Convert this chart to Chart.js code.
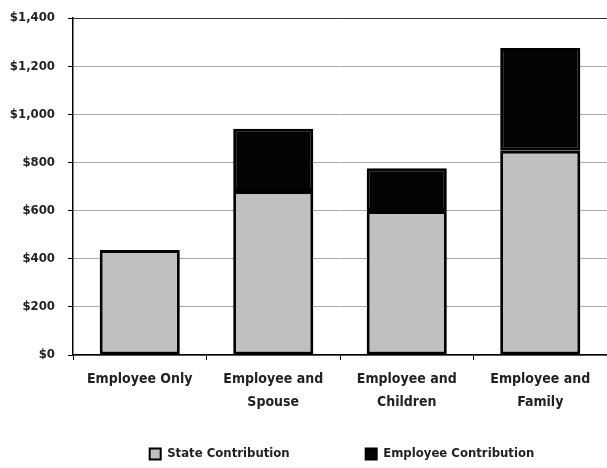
<!DOCTYPE html>
<html>
<head>
<meta charset="utf-8">
<script src="https://cdn.jsdelivr.net/npm/chart.js@4.4.0/dist/chart.umd.min.js"></script>
<style>
  html, body { margin: 0; padding: 0; background: #fff; }
  #wrap { width: 607px; height: 468px; }
</style>
</head>
<body>
<div id="wrap"><canvas id="myChart"></canvas></div>
<script>
// values
var categories = ['Employee Only', ['Employee and', 'Spouse'], ['Employee and', 'Children'], ['Employee and', 'Family']];
var stateContribution = [436, 681, 598, 848];
var employeeContribution = [0, 259, 178, 427];
var yTicks = [0, 200, 400, 600, 800, 1000, 1200, 1400];

var font = "'DejaVu Sans Condensed', 'DejaVu Sans', sans-serif";
var textColor = '#222';

// legend is laid out in a small box, then moved so its row sits at ~455px
// and is centred under the plot area instead of the whole canvas
var legendShift = {
  id: 'legendShift',
  afterLayout: function(chart) {
    var lg = chart.legend;
    var dx = (chart.chartArea.left + chart.chartArea.right) / 2 + 2 - (lg.left + lg.right) / 2;
    lg.left += dx;
    lg.right += dx;
    lg.top = 447.5 - lg.options.labels.padding;
    lg.bottom = chart.height;
    lg.height = lg.bottom - lg.top;
  }
};

var ctx = document.getElementById('myChart');
var config = {
  type: 'bar',
  data: {
    labels: categories,
    datasets: [{
      label: 'State Contribution',
      data: stateContribution,
      backgroundColor: '#c0c0c0',
      borderColor: '#000',
      borderWidth: 3,
      borderSkipped: false
    }, {
      label: 'Employee Contribution',
      data: employeeContribution,
      backgroundColor: '#030303',
      borderColor: '#000',
      borderWidth: 3,
      borderSkipped: false
    }]
  },
  plugins: [legendShift],
  options: {
    responsive: true,
    maintainAspectRatio: false,
    animation: false,
    layout: { padding: { top: 18, left: 0, right: 0, bottom: 0 } },
    datasets: {
      bar: { categoryPercentage: 1, barPercentage: 0.6 }
    },
    scales: {
      x: {
        stacked: true,
        offset: true,
        afterFit: function(scale) { scale.height = 73; },
        grid: {
          offset: true,
          drawOnChartArea: false,
          color: '#000',
          tickColor: '#000',
          tickLength: 5
        },
        border: { color: '#000', width: 1.5 },
        ticks: {
          color: textColor,
          padding: 7.5,
          maxRotation: 0,
          font: { family: font, size: 14, weight: 'bold', lineHeight: 1.64 }
        }
      },
      y: {
        stacked: true,
        min: 0,
        max: 1400,
        afterFit: function(scale) {
          scale.width = 73;
          scale.paddingTop = 0;
          scale.paddingBottom = 0;
        },
        afterBuildTicks: function(scale) {
          scale.ticks = yTicks.map(function(v) { return { value: v }; });
        },
        grid: {
          color: function(c) { return c.index === yTicks.length - 1 ? '#333' : '#ababab'; },
          tickColor: '#000',
          tickLength: 5
        },
        border: { color: '#000', width: 1.5 },
        ticks: {
          color: textColor,
          padding: 13,
          font: { family: font, size: 13, weight: 'bold' },
          callback: function(value) { return '$' + value.toLocaleString('en-US'); }
        }
      }
    },
    plugins: {
      tooltip: { enabled: false },
      legend: {
        position: 'bottom',
        maxHeight: 40,
        labels: {
          color: textColor,
          boxWidth: 11,
          boxHeight: 11,
          padding: 76,
          font: { family: font, size: 13, weight: 'bold' },
          generateLabels: function(chart) {
            return Chart.defaults.plugins.legend.labels.generateLabels(chart).map(function(item) {
              item.lineWidth = 2;
              return item;
            });
          }
        }
      }
    }
  }
};
var myChart = new Chart(ctx, config);
</script>
</body>
</html>
